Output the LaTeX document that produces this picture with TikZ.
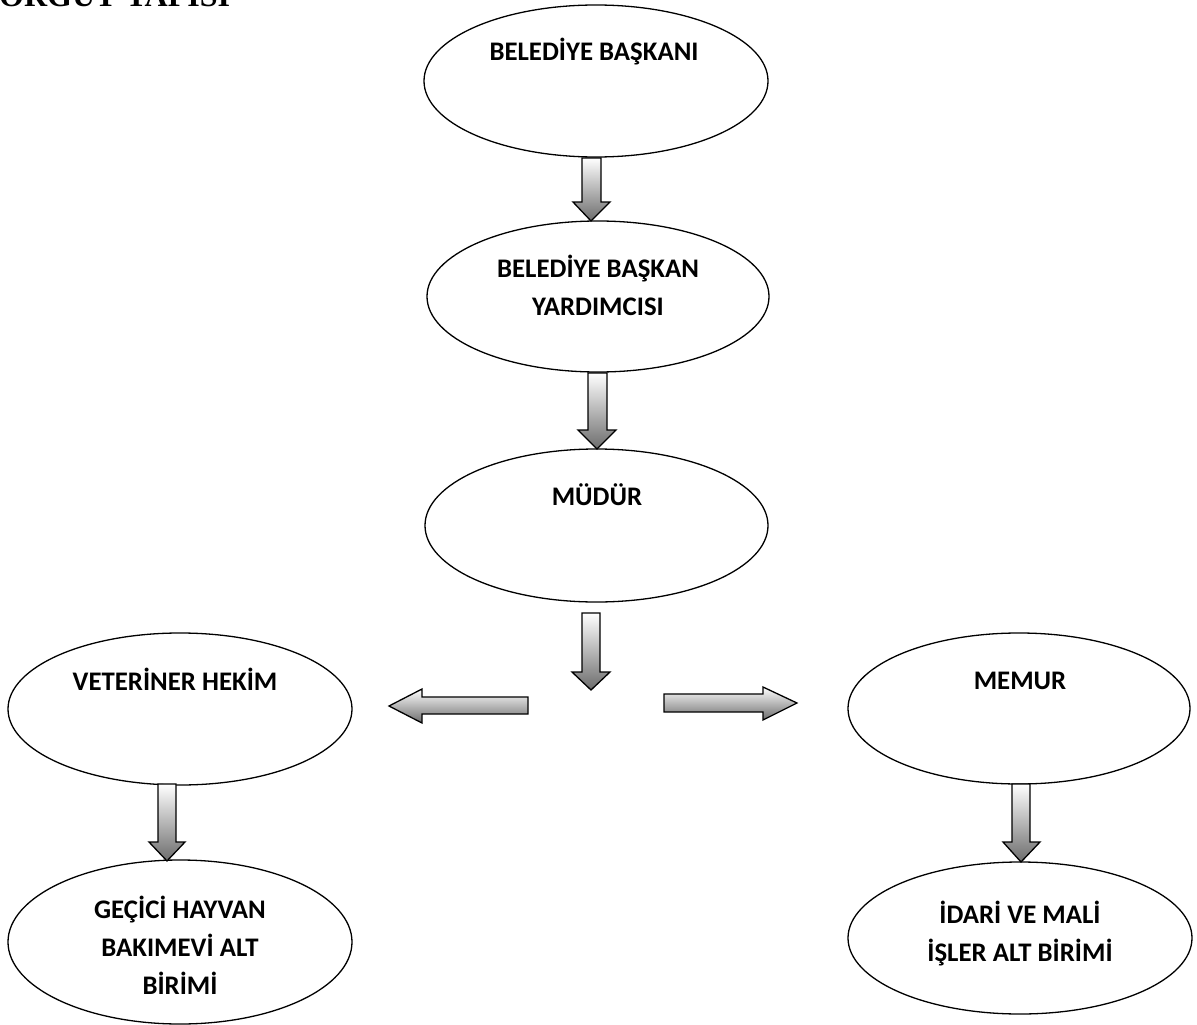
\documentclass[tikz,border=0pt]{standalone}
\usepackage{fontspec}
\setmainfont{Carlito}
\newfontfamily\titlefont{Liberation Serif}
\usetikzlibrary{shapes.geometric}
\begin{document}
\begin{tikzpicture}[x=1pt,y=-1pt,
  unit/.style={draw=black, line width=1.3pt, ellipse, inner sep=0pt},
  lbl/.style={font=\fontsize{26.8}{38}\selectfont\bfseries, align=center, inner sep=0pt, anchor=base},
  blockarrow/.style={draw=black, line width=1.3pt, line join=miter, top color=white, bottom color=gray!85!black}
]
\useasboundingbox (0,0) rectangle (1197,1025);
\clip (0,0) rectangle (1197,1025);

% heading, partly cut off at the top edge
\node[anchor=base west, inner sep=0pt, font=\titlefont\fontsize{32}{32}\selectfont\bfseries] (title) at (-1,7) {ÖRGÜT YAPISI};

% units
\node[unit, minimum width=344pt, minimum height=152pt] (baskan) at (596,81) {};
\node[unit, minimum width=342pt, minimum height=151pt] (yardimci) at (598,296.5) {};
\node[unit, minimum width=343pt, minimum height=153pt] (mudur) at (596.5,525.5) {};
\node[unit, minimum width=344pt, minimum height=152pt] (vet) at (180,709) {};
\node[unit, minimum width=342pt, minimum height=151pt] (memur) at (1019,708.5) {};
\node[unit, minimum width=344pt, minimum height=164pt] (bakimevi) at (180,942) {};
\node[unit, minimum width=344pt, minimum height=152pt] (idari) at (1020,938) {};

% unit titles (base anchor sits on the last line)
\node[lbl] (tBaskan) at (594,61) {BELEDİYE BAŞKANI};
\node[lbl] (tYardimci) at (598,315) {BELEDİYE BAŞKAN\\YARDIMCISI};
\node[lbl] (tMudur) at (597,505) {MÜDÜR};
\node[lbl] (tVet) at (175,690) {VETERİNER HEKİM};
\node[lbl] (tMemur) at (1020,689) {MEMUR};
\node[lbl] (tBakimevi) at (180,994) {GEÇİCİ HAYVAN\\BAKIMEVİ ALT\\BİRİMİ};
\node[lbl] (tIdari) at (1020,961) {İDARİ VE MALİ\\İŞLER ALT BİRİMİ};

% block arrows
% baskan -> yardimci
\path[blockarrow] (582,158) -- (601,158) -- (601,202) -- (610,202) -- (591,221) -- (573,202) -- (582,202) -- cycle;
% yardimci -> mudur
\path[blockarrow] (588,373) -- (607,373) -- (607,430) -- (616,430) -- (597,449) -- (578,430) -- (588,430) -- cycle;
% mudur -> branching point
\path[blockarrow] (582,613) -- (600,613) -- (600,672) -- (610,672) -- (591,690) -- (572,672) -- (582,672) -- cycle;
% to the left
\path[blockarrow] (528,697) -- (528,714) -- (422,714) -- (422,723) -- (389,706) -- (422,689) -- (422,697) -- cycle;
% to the right
\path[blockarrow] (664,694) -- (763,694) -- (763,687) -- (797,703) -- (763,720) -- (763,712) -- (664,712) -- cycle;
% vet -> bakimevi
\path[blockarrow] (158,784) -- (176,784) -- (176,842) -- (185,842) -- (167,861) -- (149,842) -- (158,842) -- cycle;
% memur -> idari
\path[blockarrow] (1012,784) -- (1030,784) -- (1030,842) -- (1040,842) -- (1021,862) -- (1003,842) -- (1012,842) -- cycle;
\end{tikzpicture}
\end{document}
